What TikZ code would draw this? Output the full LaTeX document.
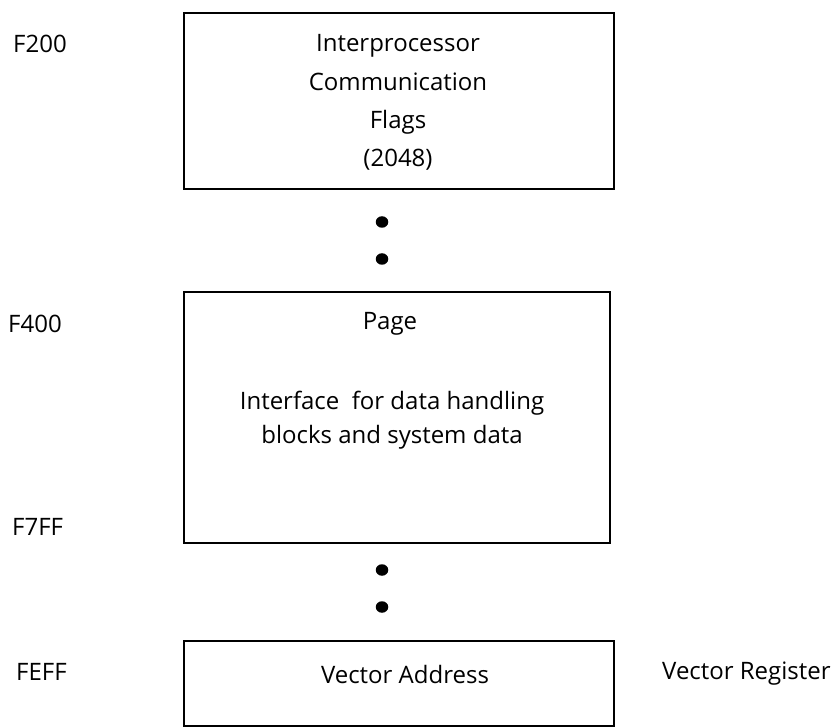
\documentclass[tikz,border=0pt]{standalone}
\usepackage{fontspec}
\usetikzlibrary{shapes.geometric}
\setmainfont{Open Sans}
\begin{document}
\begin{tikzpicture}[x=1pt,y=-1pt,
  memblock/.style={draw,line width=2.2pt,rectangle,anchor=north west,inner sep=0pt},
  boxtext/.style={font=\fontsize{24}{38.3}\selectfont,align=center,inner sep=0pt},
  addrlabel/.style={font=\fontsize{24}{28}\selectfont,inner sep=0pt,anchor=west},
  dotmark/.style={ellipse,fill,inner sep=0pt,minimum width=12.5pt,minimum height=11.5pt}
]
\useasboundingbox (0,0) rectangle (833,727);

% memory blocks
\node[memblock,minimum width=430pt,minimum height=176pt] (flags) at (183,12) {};
\node[memblock,minimum width=426pt,minimum height=251pt] (page) at (183,291) {};
\node[memblock,minimum width=430pt,minimum height=85pt] (vector) at (183,640) {};

% texts in blocks
\node[boxtext] (flagstext) at (398,102.5) {Interprocessor\\Communication\\Flags\\(2048)};
\node[boxtext] (pagetitle) at (390,324) {Page};
\node[boxtext,font=\fontsize{24}{34}\selectfont] (pagetext) at (392,420) {Interface\ \ for data handling\\blocks and system data};
\node[boxtext] (vectortext) at (405,674) {Vector Address};

% continuation dots
\node[dotmark] (dot1) at (382,222) {};
\node[dotmark] (dot2) at (382,259) {};
\node[dotmark] (dot3) at (382,570) {};
\node[dotmark] (dot4) at (382,607) {};

% addresses
\node[addrlabel] (a1) at (13,44) {F200};
\node[addrlabel] (a2) at (8,324) {F400};
\node[addrlabel] (a3) at (12,527) {F7FF};
\node[addrlabel] (a4) at (16,672) {FEFF};
\node[addrlabel] (vreg) at (662,674) {Vector Register};
\end{tikzpicture}
\end{document}
